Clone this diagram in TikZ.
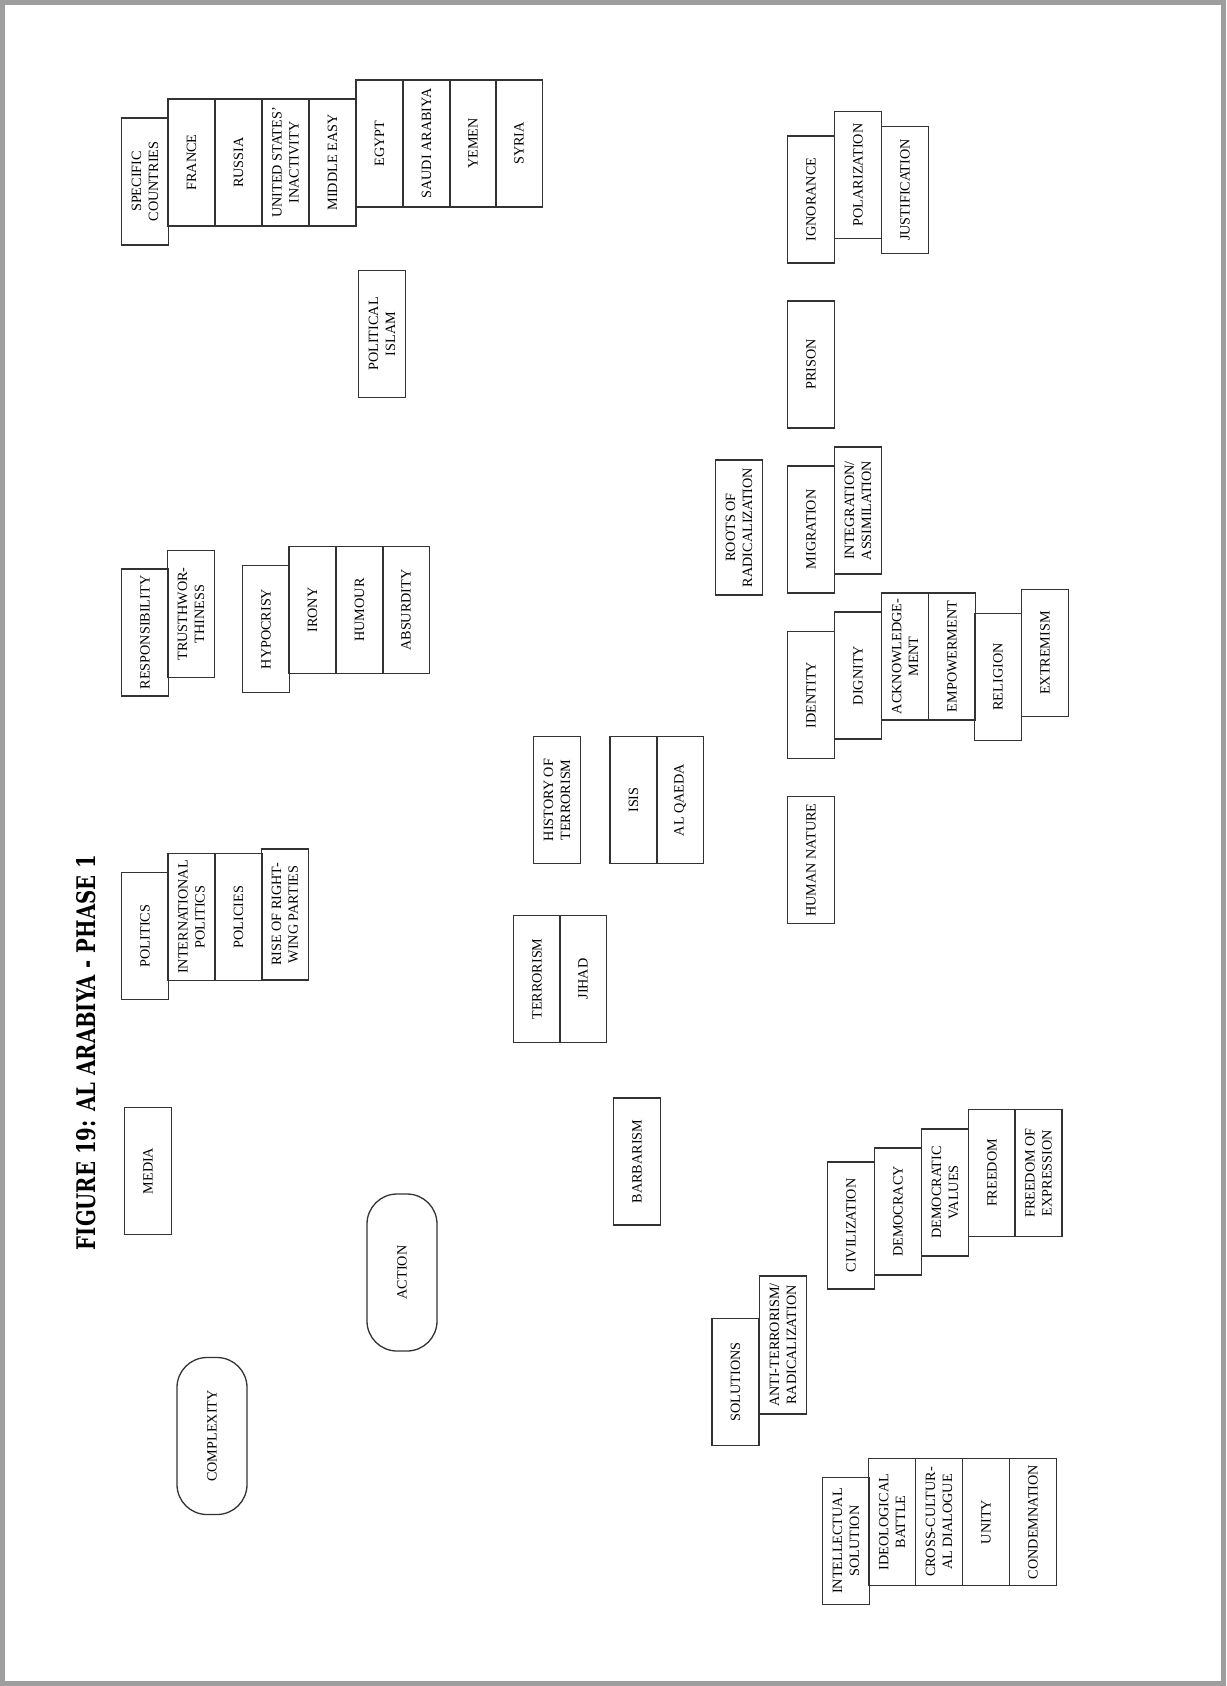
\documentclass[tikz,border=0pt]{standalone}
\usepackage{fontspec}
\setmainfont{Liberation Serif}
\newfontfamily\titlefont{DejaVu Serif}
\begin{document}
\begin{tikzpicture}[x=0.5pt,y=-0.5pt,
  bx/.style={draw=black!80, line width=0.65pt, rotate=90, inner sep=0pt, align=center,
    minimum width=63.5pt, minimum height=23.5pt, font=\fontsize{7.1}{8.4}\selectfont},
  tall/.style={minimum width=#1},
  rbx/.style={bx, rounded corners=15pt, minimum width=78.5pt, minimum height=35pt}]
\useasboundingbox (0,0) rectangle (1226,1686);
\draw[line width=2.5pt, color=black!38] (2.5,2.5) rectangle (1223.5,1683.5);
% title
\node[rotate=90, inner sep=0pt] (title) at (86,1052.5)
  {\resizebox{197.5pt}{9.5pt}{\titlefont\bfseries FIGURE 19: AL ARABIYA - PHASE 1}};
% specific countries
\node[bx] (spec) at (145,181.5) {SPECIFIC\\COUNTRIES};
\node[bx] (france) at (191.5,162.5) {FRANCE};
\node[bx] (russia) at (238.5,162.5) {RUSSIA};
\node[bx] (usa) at (285.5,162.5) {UNITED STATES’\\INACTIVITY};
\node[bx] (mideast) at (332.5,162.5) {MIDDLE EASY};
\node[bx] (egypt) at (379.5,143.5) {EGYPT};
\node[bx] (saudi) at (426.5,143.5) {SAUDI ARABIYA};
\node[bx] (yemen) at (473,143.5) {YEMEN};
\node[bx] (syria) at (519,143.5) {SYRIA};
\node[bx] (polislam) at (382,334) {POLITICAL\\ISLAM};
% ignorance group
\node[bx] (ignorance) at (811,199.5) {IGNORANCE};
\node[bx] (polarization) at (858,175) {POLARIZATION};
\node[bx] (justification) at (905,190) {JUSTIFICATION};
\node[bx] (prison) at (811,364.5) {PRISON};
\node[bx, tall=67.5pt] (roots) at (739,527.5) {ROOTS OF\\RADICALIZATION};
\node[bx] (migration) at (811,529.5) {MIGRATION};
\node[bx] (integration) at (858,510.5) {INTEGRATION/\\ASSIMILATION};
% responsibility, hypocrisy
\node[bx] (resp) at (145,632.5) {RESPONSIBILITY};
\node[bx] (trust) at (191,614) {TRUSTHWOR-\\THINESS};
\node[bx] (hypocrisy) at (266,629) {HYPOCRISY};
\node[bx] (irony) at (312.5,610) {IRONY};
\node[bx] (humour) at (359.5,610) {HUMOUR};
\node[bx] (absurdity) at (406,610) {ABSURDITY};
% politics
\node[bx] (politics) at (145,936) {POLITICS};
\node[bx] (intpol) at (191.5,917) {INTERNATIONAL\\POLITICS};
\node[bx] (policies) at (238.5,917) {POLICIES};
\node[bx, tall=65.5pt] (rise) at (285,914.5) {RISE OF RIGHT-\\WING PARTIES};
% terrorism
\node[bx] (histterr) at (557,800) {HISTORY OF\\TERRORISM};
\node[bx] (terrorism) at (537,979) {TERRORISM};
\node[bx] (jihad) at (583,979) {JIHAD};
\node[bx] (isis) at (633.5,800) {ISIS};
\node[bx] (alqaeda) at (680,800) {AL QAEDA};
% identity group
\node[bx] (identity) at (811,695) {IDENTITY};
\node[bx] (dignity) at (858,675.5) {DIGNITY};
\node[bx] (ack) at (905,656.5) {ACKNOWLEDGE-\\MENT};
\node[bx] (empower) at (952,656.5) {EMPOWERMENT};
\node[bx] (religion) at (998,677) {RELIGION};
\node[bx] (extremism) at (1045,653) {EXTREMISM};
\node[bx] (humnat) at (811,860) {HUMAN NATURE};
% lower left
\node[bx] (media) at (148,1171) {MEDIA};
\node[rbx] (action) at (402,1272.5) {ACTION};
\node[rbx] (complexity) at (212,1436) {COMPLEXITY};
\node[bx] (barbarism) at (637,1161.5) {BARBARISM};
% civilization group
\node[bx] (civ) at (851,1225.5) {CIVILIZATION};
\node[bx] (democracy) at (898,1211.5) {DEMOCRACY};
\node[bx] (demval) at (945,1192.5) {DEMOCRATIC\\VALUES};
\node[bx] (freedom) at (992,1173) {FREEDOM};
\node[bx] (freeexp) at (1038.5,1173) {FREEDOM OF\\EXPRESSION};
% solutions
\node[bx] (solutions) at (735.5,1382) {SOLUTIONS};
\node[bx, tall=69pt] (antiterr) at (783,1345) {ANTI-TERRORISM/\\RADICALIZATION};
\node[bx] (intsol) at (846,1541) {INTELLECTUAL\\SOLUTION};
\node[bx] (ideobattle) at (892,1522) {IDEOLOGICAL\\BATTLE};
\node[bx] (crosscult) at (939,1522) {CROSS-CULTUR-\\AL DIALOGUE};
\node[bx] (unity) at (986,1522) {UNITY};
\node[bx] (condemn) at (1033,1522) {CONDEMNATION};
\end{tikzpicture}
\end{document}
